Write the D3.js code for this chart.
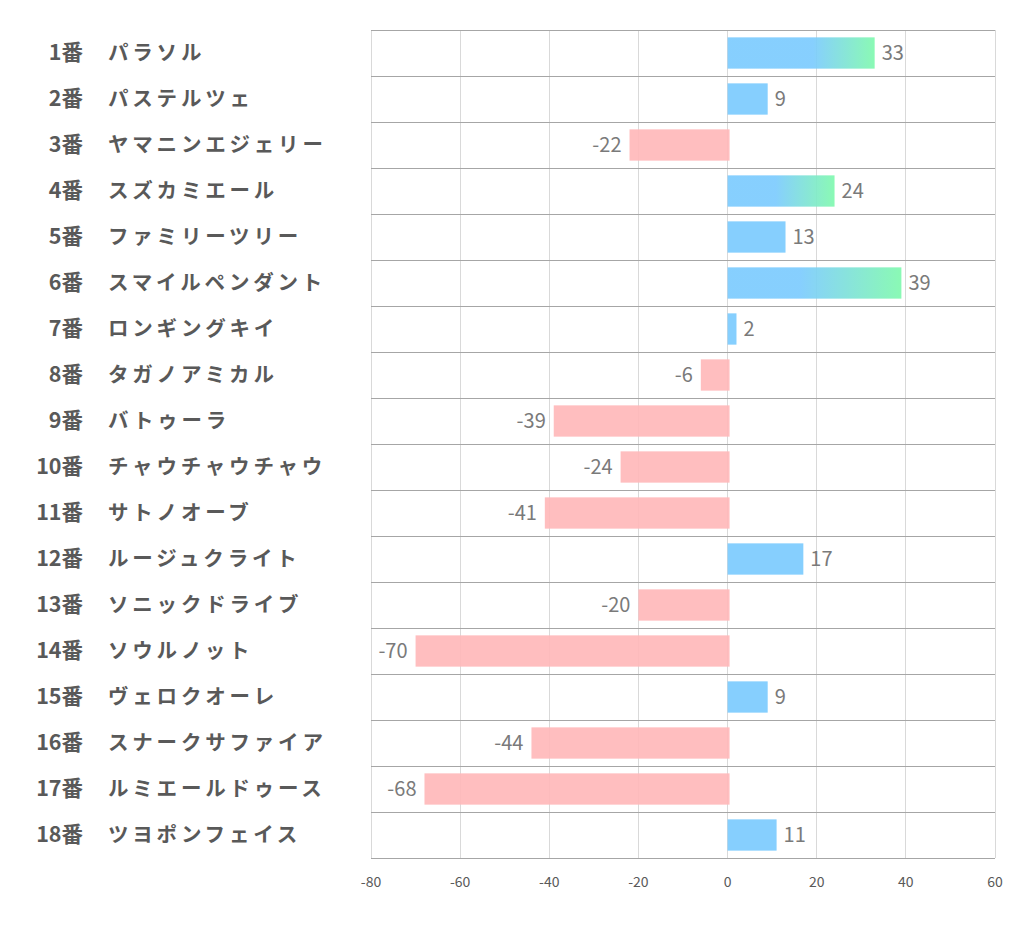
<!DOCTYPE html>
<html><head><meta charset="utf-8">
<script src="https://cdn.jsdelivr.net/npm/d3@7"></script>
<style>body{margin:0;background:#fff;}svg{display:block;}</style>
</head><body>
<svg id="c" width="1022" height="939"></svg>
<script>
const numbers = ["1番","2番","3番","4番","5番","6番","7番","8番","9番","10番","11番","12番","13番","14番","15番","16番","17番","18番"];
const names = ["パラソル","パステルツェ","ヤマニンエジェリー","スズカミエール","ファミリーツリー","スマイルペンダント","ロンギングキイ","タガノアミカル","バトゥーラ","チャウチャウチャウ","サトノオーブ","ルージュクライト","ソニックドライブ","ソウルノット","ヴェロクオーレ","スナークサファイア","ルミエールドゥース","ツヨポンフェイス"];
const values = [33,9,-22,24,13,39,2,-6,-39,-24,-41,17,-20,-70,9,-44,-68,11];
const ticks = [-80,-60,-40,-20,0,20,40,60];

const svg = d3.select("#c");
const font = "'Noto Sans CJK JP','Noto Sans',sans-serif";
const x = d3.scaleLinear().domain([-80,60]).range([371,995]);
const y = d3.scaleBand().domain(d3.range(values.length)).range([30,858]).paddingInner(0.32).paddingOuter(0.16);
const rowH = 46;

const defs = svg.append("defs");
values.forEach((v,i)=>{
  if (v >= 20) {
    const g = defs.append("linearGradient").attr("id","g"+i).attr("x1","0").attr("x2","1").attr("y1","0").attr("y2","0");
    g.append("stop").attr("offset", v>=35?"0.42":(v>=30?"0.58":"0.45")).attr("stop-color","#7ccbfe");
    g.append("stop").attr("offset","1").attr("stop-color","#80f9ae");
  }
});

// vertical gridlines
svg.append("g").selectAll("line").data(ticks).join("line")
  .attr("x1",d=>x(d)).attr("x2",d=>x(d)).attr("y1",30).attr("y2",858)
  .attr("stroke","#d9d9d9").attr("stroke-width",1).attr("shape-rendering","crispEdges");

// horizontal row lines
svg.append("g").selectAll("line").data(d3.range(values.length+1)).join("line")
  .attr("x1",371).attr("x2",995).attr("y1",d=>30+d*rowH).attr("y2",d=>30+d*rowH)
  .attr("stroke","#a6a6a6").attr("stroke-width",1).attr("shape-rendering","crispEdges");

// bars
svg.append("g").selectAll("rect").data(values).join("rect")
  .attr("x",d=>x(Math.min(0,d))).attr("width",d=>Math.abs(x(d)-x(0)) + (d<0?2:0))
  .attr("y",(d,i)=>y(i)).attr("height",y.bandwidth())
  .attr("fill",(d,i)=> d<0 ? "#ffb8ba" : (d>=20 ? `url(#g${i})` : "#7ccbfe"))
  .attr("opacity",0.92);

// value labels
svg.append("g").selectAll("text").data(values).join("text")
  .attr("x",d=> d<0 ? x(d)-8 : x(d)+7)
  .attr("y",(d,i)=>y(i)+y.bandwidth()/2+7)
  .attr("text-anchor",d=>d<0?"end":"start")
  .attr("font-family",font).attr("font-size",20).attr("fill","#7a7a7a")
  .text(d=>d);

// category labels
const lab = svg.append("g");
lab.selectAll("text.n").data(numbers).join("text").attr("class","n")
  .attr("x",83).attr("y",(d,i)=>30+i*rowH+rowH/2+7)
  .attr("text-anchor","end").attr("font-family",font).attr("font-weight","bold")
  .attr("font-size",21.5).attr("fill","#595959").text(d=>d);
lab.selectAll("text.m").data(names).join("text").attr("class","m")
  .attr("x",108).attr("y",(d,i)=>30+i*rowH+rowH/2+7)
  .attr("text-anchor","start").attr("font-family",font).attr("font-weight","bold")
  .attr("font-size",20.5).attr("fill","#595959").attr("letter-spacing","3.8px").text(d=>d);

// x axis tick labels
svg.append("g").selectAll("text").data(ticks).join("text")
  .attr("x",d=>x(d)).attr("y",887).attr("text-anchor","middle")
  .attr("font-family",font).attr("font-size",14).attr("fill","#595959").text(d=>d);
</script>
</body></html>
